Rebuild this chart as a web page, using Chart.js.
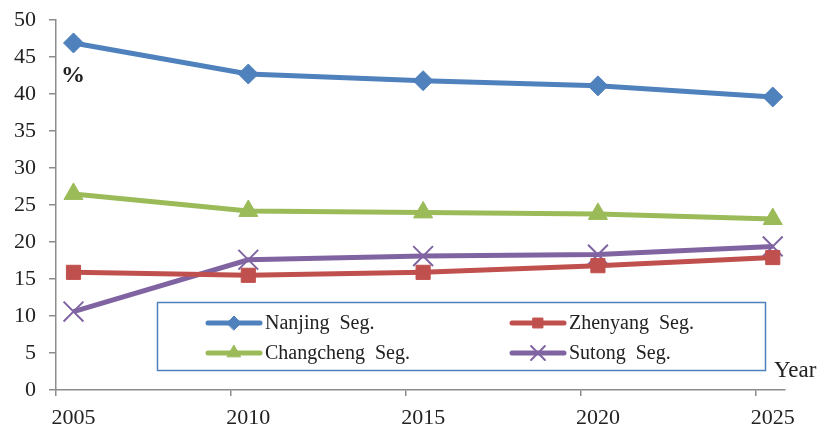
<!DOCTYPE html>
<html lang="en">
<head>
    <meta charset="UTF-8">
    <title>Segment Share by Year</title>
    <script src="https://cdn.jsdelivr.net/npm/chart.js"></script>
    <style>
        html, body { margin: 0; padding: 0; background: #fff; }
        #wrap { position: relative; width: 821px; height: 430px; }
    </style>
</head>
<body>
    <div id="wrap">
        <canvas id="segChart" width="821" height="430"></canvas>
    </div>

    <script>
        // Share of each river segment (%) by year
        const years = [2005, 2010, 2015, 2020, 2025];
        const nanjing = [46.9, 42.7, 41.8, 41.1, 39.6];
        const zhenyang = [15.9, 15.5, 15.9, 16.8, 17.9];
        const changcheng = [26.5, 24.2, 24.0, 23.8, 23.1];
        const sutong = [10.6, 17.6, 18.1, 18.3, 19.4];
        const yTicks = [0, 5, 10, 15, 20, 25, 30, 35, 40, 45, 50];

        const axisFont = { family: 'Liberation Serif', size: 22 };
        const axisColor = '#8c8c8c';
        const textColor = '#222';

        function series(label, values, color, style, radius, bw) {
            return {
                label: label,
                data: years.map((y, i) => ({ x: y, y: values[i] })),
                borderColor: color,
                backgroundColor: color,
                borderWidth: 5,
                tension: 0,
                pointStyle: style,
                pointRadius: radius,
                pointBorderWidth: bw,
                pointBackgroundColor: color,
                pointBorderColor: color
            };
        }

        // Legend drawn as a boxed two-column panel inside the plot
        const boxLegend = {
            id: 'boxLegend',
            afterDraw(chart) {
                const ctx = chart.ctx;
                ctx.save();
                ctx.strokeStyle = '#4f81bd';
                ctx.lineWidth = 1.5;
                ctx.strokeRect(157.5, 302.5, 608, 68);
                const slots = [[208, 323], [512, 323], [208, 353], [512, 353]];
                chart.data.datasets.forEach((ds, i) => {
                    const [x, y] = slots[i];
                    ctx.strokeStyle = ds.borderColor;
                    ctx.lineWidth = 5;
                    ctx.lineCap = 'round';
                    ctx.beginPath();
                    ctx.moveTo(x, y);
                    ctx.lineTo(x + 52, y);
                    ctx.stroke();
                    ctx.fillStyle = ds.borderColor;
                    ctx.lineWidth = ds.pointBorderWidth;
                    Chart.helpers.drawPoint(ctx, {
                        pointStyle: ds.pointStyle,
                        radius: ds.pointRadius * 0.7,
                        borderWidth: ds.pointBorderWidth
                    }, x + 26, y);
                    ctx.fillStyle = textColor;
                    ctx.font = '20px "Liberation Serif"';
                    ctx.textBaseline = 'middle';
                    ctx.fillText(ds.label, x + 57, y + 1);
                });
                // unit and axis captions
                ctx.font = 'bold 24px "Liberation Serif"';
                ctx.fillText('%', 61, 76);
                ctx.font = '23px "Liberation Serif"';
                ctx.fillText('Year', 774, 371);
                ctx.restore();
            }
        };

        new Chart(document.getElementById('segChart'), {
            type: 'line',
            data: {
                datasets: [
                    series('Nanjing  Seg.', nanjing, '#4f81bd', 'rectRot', 10, 1),
                    series('Zhenyang  Seg.', zhenyang, '#c0504d', 'rect', 10, 1),
                    series('Changcheng  Seg.', changcheng, '#9bbb59', 'triangle', 11, 1),
                    series('Sutong  Seg.', sutong, '#8064a2', 'crossRot', 14, 2)
                ]
            },
            options: {
                responsive: false,
                animation: false,
                layout: { padding: { top: 20, right: 36, left: 0, bottom: 0 } },
                plugins: {
                    legend: { display: false },
                    tooltip: { enabled: false }
                },
                scales: {
                    x: {
                        type: 'linear',
                        min: 2004.5,
                        max: 2025.35,
                        afterBuildTicks(scale) {
                            scale.ticks = years.map(y => ({ value: y - 0.5 }));
                        },
                        afterFit(scale) {
                            scale.height = 40;
                            scale.paddingLeft = 0;
                            scale.paddingRight = 0;
                        },
                        border: { color: axisColor, width: 1.5 },
                        grid: { drawOnChartArea: false, tickLength: 6, color: axisColor, lineWidth: 1.5 },
                        ticks: {
                            font: axisFont,
                            color: textColor,
                            padding: 9,
                            maxRotation: 0,
                            autoSkip: false,
                            labelOffset: 17.5,
                            callback: v => String(v + 0.5)
                        }
                    },
                    y: {
                        min: 0,
                        max: 50,
                        afterBuildTicks(scale) {
                            scale.ticks = yTicks.map(v => ({ value: v }));
                        },
                        afterFit(scale) {
                            scale.width = 56;
                            scale.paddingTop = 0;
                            scale.paddingBottom = 0;
                        },
                        border: { color: axisColor, width: 1.5 },
                        grid: { drawOnChartArea: false, tickLength: 7, color: axisColor, lineWidth: 1.5 },
                        ticks: { font: axisFont, color: textColor, padding: 13 }
                    }
                }
            },
            plugins: [boxLegend]
        });
    </script>
</body>
</html>
